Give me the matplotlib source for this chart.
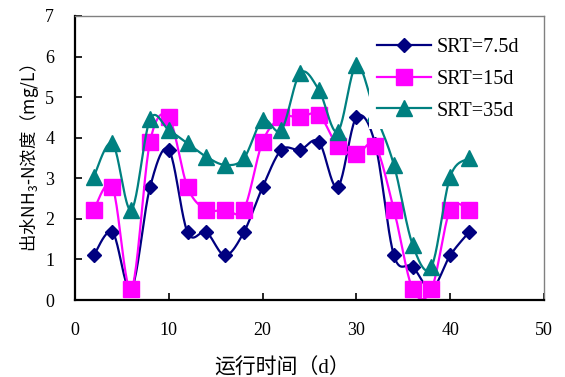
import numpy as np
import matplotlib
matplotlib.use('Agg')
import matplotlib.pyplot as plt
from matplotlib.lines import Line2D

plt.rcParams['mathtext.default'] = 'regular'

days = [2, 4, 6, 8, 10, 12, 14, 16, 18, 20, 22, 24, 26, 28, 30, 32, 34, 36, 38, 40, 42]
srt_7_5 = [1.1, 1.67, 0.27, 2.78, 3.7, 1.67, 1.67, 1.1, 1.67, 2.78, 3.7, 3.7, 3.9,
           2.78, 4.5, 3.85, 1.1, 0.82, 0.27, 1.1, 1.67]
srt_15 = [2.23, 2.78, 0.26, 3.9, 4.5, 2.78, 2.23, 2.23, 2.23, 3.9, 4.5, 4.5, 4.57,
          3.8, 3.6, 3.8, 2.23, 0.27, 0.26, 2.23, 2.23]
srt_35 = [3.04, 3.86, 2.22, 4.45, 4.19, 3.86, 3.53, 3.33, 3.49, 4.44, 4.19, 5.59, 5.18,
          4.15, 5.79, 4.6, 3.33, 1.36, 0.82, 3.04, 3.49]
labels = ['SRT=7.5d', 'SRT=15d', 'SRT=35d']

serif = ['Liberation Serif', 'Noto Sans CJK SC']


def smooth(x, y, n=24):
    # cardinal (Catmull-Rom style) bezier through every point
    p = np.column_stack([x, y]).astype(float)
    p = np.vstack([p[0], p, p[-1]])
    out = []
    t = np.linspace(0, 1, n)[:, None]
    for i in range(1, len(p) - 2):
        a, d = p[i], p[i + 1]
        b = a + (p[i + 1] - p[i - 1]) / 6
        c = d - (p[i + 2] - p[i]) / 6
        seg = ((1 - t) ** 3) * a + 3 * ((1 - t) ** 2) * t * b + 3 * (1 - t) * t ** 2 * c + t ** 3 * d
        out.append(seg if i == 1 else seg[1:])
    s = np.vstack(out)
    return s[:, 0], s[:, 1]


fig = plt.figure(figsize=(5.65, 3.77), dpi=100)
ax = fig.add_axes([0.1327, 0.2042, 0.8301, 0.7534])

styles = [('#000080', 'D', 7.5), ('#FF00FF', 's', 11), ('#008080', '^', 11)]
handles = []
for vals, (col, mk, ms), lab in zip([srt_7_5, srt_15, srt_35], styles, labels):
    sx, sy = smooth(days, vals)
    ax.plot(sx, sy, color=col, lw=1.6, solid_capstyle='round')
    ax.plot(days, vals, ls='none', marker=mk, ms=ms, color=col, mec=col)
    handles.append(Line2D([], [], color=col, lw=1.6, marker=mk, ms=ms, mec=col, label=lab))

ax.set_xlim(0, 50)
ax.set_ylim(0, 7)
ax.set_xticks(range(0, 51, 10))
ax.set_yticks(range(0, 8))

for side in ['left', 'bottom']:
    ax.spines[side].set_linewidth(1.6)
    ax.spines[side].set_color('black')
for side in ['top', 'right']:
    ax.spines[side].set_linewidth(1.0)
    ax.spines[side].set_color('#808080')

ax.tick_params(direction='in', length=5, width=1.2, labelsize=13)
ax.tick_params(axis='y', pad=15)
ax.tick_params(axis='x', pad=16)
for lb in ax.get_xticklabels() + ax.get_yticklabels():
    lb.set_family(serif)

ax.set_xlabel('运行时间（d）', family=serif, fontsize=15)
ax.xaxis.set_label_coords(0.441, -0.205)
ax.set_ylabel('出水NH$_3$-N浓度（mg/L）', family='Noto Sans CJK SC', fontsize=12.5, labelpad=3)

leg = ax.legend(handles=handles, loc='upper left', bbox_to_anchor=(0.627, 0.95),
                prop={'family': serif, 'size': 14.5}, handlelength=2.7,
                handletextpad=0.25, labelspacing=0.62, borderpad=0.4,
                borderaxespad=0, frameon=True, fancybox=False, framealpha=1)
leg.get_frame().set_edgecolor('none')
leg.get_frame().set_facecolor('white')
leg.set_zorder(5)

fig.savefig('out.png', dpi=100)
